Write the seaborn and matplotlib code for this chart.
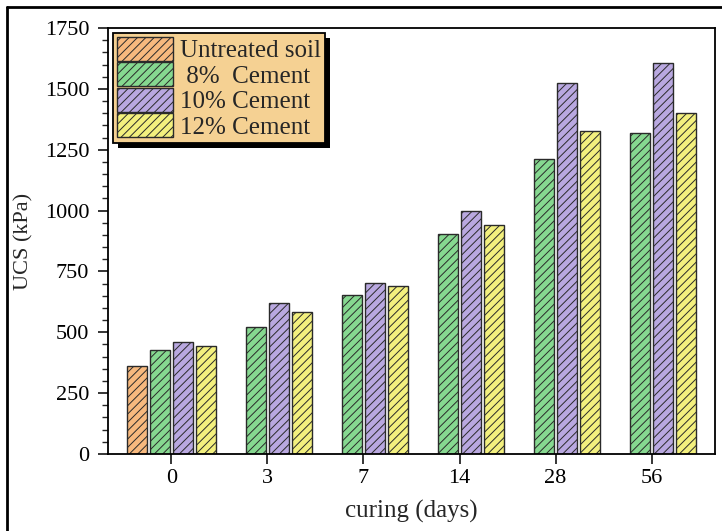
import matplotlib
matplotlib.use("Agg")
import matplotlib.pyplot as plt
import seaborn as sns
import pandas as pd
import numpy as np
from matplotlib.patches import Patch, Rectangle
from matplotlib.lines import Line2D
from matplotlib.ticker import MultipleLocator

days = ["0", "3", "7", "14", "28", "56"]
series = ["Untreated soil", " 8%  Cement", "10% Cement", "12% Cement"]
untreated = [363, np.nan, np.nan, np.nan, np.nan, np.nan]
cement8 = [427, 520, 652, 904, 1212, 1320]
cement10 = [460, 619, 701, 998, 1523, 1608]
cement12 = [445, 582, 691, 941, 1327, 1400]
colors = ["#F7B97E", "#86D890", "#B9A8E0", "#F3F07E"]

rows = []
for name, vals in zip(series, [untreated, cement8, cement10, cement12]):
    for d, v in zip(days, vals):
        rows.append({"day": d, "group": name, "ucs": v})
df = pd.DataFrame(rows)

sns.set_style("white")
plt.rcParams["font.family"] = ["Liberation Serif", "DejaVu Serif"]
plt.rcParams["hatch.linewidth"] = 0.7

fig = plt.figure(figsize=(7.22, 5.31), dpi=100)
ax = fig.add_axes([108 / 722, 1 - 454 / 531, (715 - 108) / 722, (454 - 28) / 531])

sns.barplot(data=df, x="day", y="ucs", hue="group", order=days, hue_order=series,
            palette=colors, width=0.95, gap=0.12, dodge=True, errorbar=None,
            edgecolor="#2a2a2a", linewidth=1.0, saturation=1, ax=ax, legend=False)

for cont in ax.containers:
    for bar in cont:
        bar.set_hatch("////")

ax.set_xlim(-0.66, 5.66)
ax.set_ylim(0, 1750)
ax.yaxis.set_major_locator(MultipleLocator(250))
ax.yaxis.set_minor_locator(MultipleLocator(50))
ax.tick_params(axis="both", which="major", direction="out", length=7.5, width=1.1,
               labelsize=16, colors="black", left=True, bottom=True, pad=3)
ax.tick_params(axis="y", which="major", pad=6)
ax.tick_params(axis="y", which="minor", direction="out", length=4, width=1.0, left=True)
for s in ax.spines.values():
    s.set_visible(True)
    s.set_color("black")
    s.set_linewidth(1.3)

ax.set_xlabel("curing (days)", fontsize=18, labelpad=9)
ax.set_ylabel("UCS (kPa)", fontsize=16, labelpad=8)

handles = [Patch(facecolor=c, edgecolor="#2a2a2a", hatch="////", linewidth=1.0) for c in colors]
leg = ax.legend(handles, series, loc="upper left", bbox_to_anchor=(0.008, 0.988),
                fontsize=18, frameon=True, fancybox=False, framealpha=1,
                facecolor="#F5D193", edgecolor="black", handlelength=2.25,
                handleheight=1.1, labelspacing=0.0, handletextpad=0.3,
                borderpad=0.15, borderaxespad=0.0)
leg.get_frame().set_linewidth(1.3)
leg.set_zorder(6)

fig.canvas.draw()
bb = leg.get_window_extent()
shadow = Rectangle((bb.x0 + 5, bb.y0 - 5), bb.width, bb.height, transform=None,
                   facecolor="black", edgecolor="none", zorder=5.5)
ax.add_artist(shadow)

# figure frame (left and top visible)
fig.add_artist(Line2D([7 / 722, 7 / 722], [0, 1 - 7 / 531], color="black", lw=2,
                      transform=fig.transFigure))
fig.add_artist(Line2D([7 / 722, 1], [1 - 7 / 531, 1 - 7 / 531], color="black", lw=2,
                      transform=fig.transFigure))

fig.savefig("out.png", dpi=100)
